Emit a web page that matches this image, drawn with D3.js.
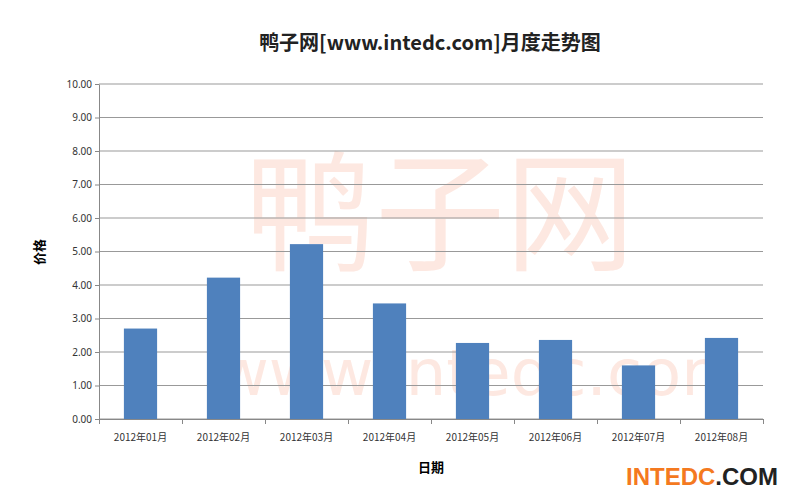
<!DOCTYPE html><html><head><meta charset="utf-8"><script src="https://cdn.jsdelivr.net/npm/d3@7"></script>
<style>body{margin:0;background:#fff}</style></head><body><svg id="c" width="800" height="497"></svg><script>
const categories=["2012年01月","2012年02月","2012年03月","2012年04月","2012年05月","2012年06月","2012年07月","2012年08月"];
const values=[2.70,4.22,5.22,3.45,2.27,2.36,1.60,2.42];
const yTicks=[0,1,2,3,4,5,6,7,8,9,10];
const svg=d3.select("#c");
const L=99,R=763,T=84,B=419;
const x=d3.scaleBand().domain(categories).range([L,R]).paddingInner(0.6).paddingOuter(0.3);
const y=d3.scaleLinear().domain([0,10]).range([B,T]);
svg.append("text").attr("x",430).attr("y",50).attr("text-anchor","middle").attr("font-family","Noto Sans CJK SC").attr("font-size",20).attr("font-weight","bold").attr("fill","#222").text("鸭子网[www.intedc.com]月度走势图");
svg.append("text").attr("x",440).attr("y",260).attr("text-anchor","middle").attr("font-family","Noto Sans CJK SC").attr("font-size",130).attr("fill","#fde3da").attr("opacity",0.8).text("鸭子网");
svg.append("text").attr("x",480).attr("y",395).attr("text-anchor","middle").attr("font-family","DejaVu Sans").attr("font-size",64).attr("fill","#fde3da").attr("opacity",0.8).text("www.intedc.com");
svg.append("g").selectAll("line").data(yTicks).join("line").attr("x1",L).attr("x2",R).attr("y1",d=>y(d)).attr("y2",d=>y(d)).attr("stroke","#999");
svg.append("g").selectAll("rect").data(values).join("rect").attr("x",(d,i)=>x(categories[i])).attr("width",x.bandwidth()).attr("y",d=>y(d)).attr("height",d=>B-y(d)).attr("fill","#4f81bd");
const ya=svg.append("g").attr("transform",`translate(${L},0)`).call(d3.axisLeft(y).tickValues(yTicks).tickFormat(d3.format(".2f")).tickSize(4).tickSizeOuter(0));
const xa=svg.append("g").attr("transform",`translate(0,${B})`).call(d3.axisBottom(d3.scalePoint().domain(d3.range(9)).range([L,R])).tickFormat("").tickSize(5).tickSizeOuter(0));
[ya,xa].forEach(a=>{a.selectAll("path,line").attr("stroke","#888");a.selectAll("text").attr("font-family","Noto Sans").attr("font-size",10).attr("fill","#333");});
svg.append("g").selectAll("text").data(categories).join("text").attr("x",d=>x(d)+x.bandwidth()/2).attr("y",B+22).attr("text-anchor","middle").attr("font-family","Noto Sans CJK SC").attr("font-size",10).attr("fill","#333").text(d=>d);
svg.append("text").attr("x",431).attr("y",472).attr("text-anchor","middle").attr("font-family","Noto Sans CJK SC").attr("font-size",13).attr("font-weight","bold").text("日期");
svg.append("text").attr("transform","translate(44,252) rotate(-90)").attr("text-anchor","middle").attr("font-family","Noto Sans CJK SC").attr("font-size",13).attr("font-weight","bold").text("价格");
const lg=svg.append("text").attr("x",778).attr("y",485).attr("text-anchor","end").attr("font-family","Liberation Sans").attr("font-size",24).attr("font-weight","bold");
lg.append("tspan").attr("fill","#f47920").text("INTEDC");lg.append("tspan").attr("fill","#222").text(".COM");
</script></body></html>
